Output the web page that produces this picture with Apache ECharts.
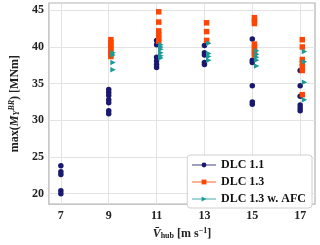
<!DOCTYPE html>
<html><head><meta charset="utf-8">
<script src="https://cdn.jsdelivr.net/npm/echarts@6/dist/echarts.min.js"></script>
<style>html,body{margin:0;padding:0;background:#fff}#c{width:320px;height:245px}</style>
</head><body><div id="c"></div>
<script>
const windSpeeds = [7, 9, 11, 13, 15, 17];
const xTicks = [7, 9, 11, 13, 15, 17];
const yTicks = [20, 25, 30, 35, 40, 45];
// DLC 1.1 values per wind speed
const dlc11 = [
  [23.8, 23.0, 22.6, 20.4, 20.0],
  [34.2, 33.8, 33.4, 32.8, 32.4, 31.3, 30.9],
  [40.9, 40.3, 38.6, 38.1, 37.6, 37.2],
  [40.2, 39.2, 38.9, 37.9, 37.6],
  [41.1, 38.2, 37.9, 34.7, 32.5, 32.2],
  [36.8, 34.7, 33.3, 32.1, 31.7, 31.3]
];
// DLC 1.3
const dlc13 = [
  [],
  [41.0, 40.6, 40.2, 39.8, 39.4, 39.0, 38.7],
  [44.8, 43.4, 42.2, 41.7, 41.2, 40.8],
  [43.3, 42.1, 40.9],
  [44.0, 43.6, 43.2, 40.4, 40.0, 39.6, 39.2, 38.9],
  [41.0, 40.0, 38.3, 37.8, 37.3, 36.8, 33.5]
];
// DLC 1.3 w. AFC
const dlc13afc = [
  [],
  [39.2, 38.9, 37.9, 36.9],
  [40.3, 40.0, 39.7, 39.2, 38.8, 38.5],
  [40.5, 39.1, 38.7, 38.2],
  [39.5, 39.0, 38.6, 38.2, 37.4],
  [39.4, 38.0, 35.2, 32.8]
];
const seriesNames = ['DLC 1.1', 'DLC 1.3', 'DLC 1.3 w. AFC'];

function build(arr, off) {
  const out = [];
  arr.forEach((vals, i) => vals.forEach(v => out.push([windSpeeds[i] + off, v])));
  return out;
}
const FONT = '"Liberation Serif", "DejaVu Serif", serif';
const chart = echarts.init(document.getElementById('c'), null, {renderer: 'canvas'});
const gridColor = '#e3e3e3';
const frameColor = '#b3b3b3';
function mkSeries(name, data, symbol, size, color, rot) {
  return {
    name, type: 'line', data, symbol, symbolSize: size, symbolRotate: rot || 0,
    lineStyle: {opacity: 0, width: 1.5, color},
    itemStyle: {color},
    showSymbol: true, animation: false, z: 3
  };
}
chart.setOption({
  animation: false,
  grid: {left: 33, right: 5, top: 3, bottom: 30, show: true, borderColor: frameColor, borderWidth: 1.2},
  xAxis: {
    type: 'value', min: 6.5, max: 17.62,
    axisLine: {show: false},
    axisTick: {show: false, customValues: xTicks},
    axisLabel: {customValues: xTicks, fontFamily: FONT, fontWeight: 'bold', fontSize: 12, color: '#222', margin: 6},
    splitLine: {show: true, lineStyle: {color: gridColor, width: 1}},
    name: '{it|V̄}{sub|hub} [m s{sup|−1}]',
    nameLocation: 'middle', nameGap: 18,
    nameTextStyle: {
      fontFamily: FONT, fontWeight: 'bold', fontSize: 12, color: '#222',
      rich: {
        it: {fontFamily: FONT, fontStyle: 'italic', fontSize: 12, color: '#222'},
        sub: {fontFamily: FONT, fontSize: 8, color: '#222', verticalAlign: 'bottom', padding: [5, 0, 0, 0]},
        sup: {fontFamily: FONT, fontWeight: 'bold', fontSize: 8, color: '#222', verticalAlign: 'top', padding: [0, 0, 5, 0]}
      }
    }
  },
  yAxis: {
    type: 'value', min: 18.58, max: 46.0,
    axisLine: {show: false},
    axisTick: {show: false, customValues: yTicks},
    axisLabel: {customValues: yTicks, fontFamily: FONT, fontWeight: 'bold', fontSize: 12, color: '#222', margin: 5},
    splitLine: {show: true, lineStyle: {color: gridColor, width: 1}},
    name: 'max({it|M}{sub|Y}{sup|BR}) [MNm]',
    nameLocation: 'middle', nameGap: 22,
    nameTextStyle: {
      fontFamily: FONT, fontWeight: 'bold', fontSize: 12, color: '#222',
      rich: {
        it: {fontFamily: FONT, fontStyle: 'italic', fontSize: 12, color: '#222'},
        sub: {fontFamily: FONT, fontStyle: 'italic', fontSize: 8, color: '#222', verticalAlign: 'bottom', padding: [5, 0, 0, 0]},
        sup: {fontFamily: FONT, fontStyle: 'italic', fontSize: 8, color: '#222', verticalAlign: 'top', padding: [0, 0, 5, 0]}
      }
    }
  },
  legend: {
    right: 8, bottom: 37, orient: 'vertical',
    backgroundColor: '#fff', borderColor: '#d0d0d0', borderWidth: 1, borderRadius: 3,
    padding: [4, 6, 3, 4], itemGap: 5, itemWidth: 24, itemHeight: 6,
    textStyle: {fontFamily: FONT, fontWeight: 'bold', fontSize: 12, color: '#111'},
    lineStyle: {opacity: 0.55, width: 1.5},
    data: seriesNames
  },
  series: [
    mkSeries(seriesNames[0], build(dlc11, 0), 'circle', 5.5, '#191970'),
    mkSeries(seriesNames[1], build(dlc13, 0.09), 'rect', 5.5, '#ff4500'),
    mkSeries(seriesNames[2], build(dlc13afc, 0.18), 'triangle', 5.5, '#1a9b98', -90)
  ]
});
</script></body></html>
